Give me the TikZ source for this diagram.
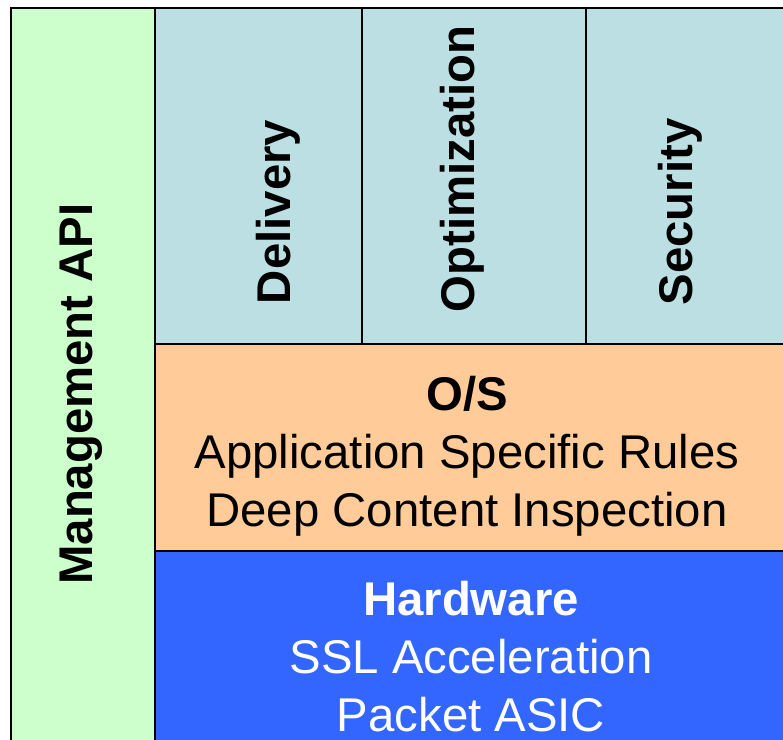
\documentclass[tikz,border=0pt]{standalone}
\usepackage{fontspec}
\setmainfont{Liberation Sans}

\definecolor{mgmtgreen}{HTML}{CCFFCC}
\definecolor{svcteal}{HTML}{BBDFE3}
\definecolor{osorange}{HTML}{FFCC99}
\definecolor{hwblue}{HTML}{3366FF}

\tikzset{
  panel/.style={draw=black, line width=2.2pt},
  layertext/.style={font=\fontsize{35.5}{43.5}\selectfont, inner sep=0pt, align=center},
  sidetext/.style={font=\fontsize{35.5}{43.5}\selectfont\bfseries, inner sep=0pt, rotate=90},
}

\begin{document}
\begin{tikzpicture}[x=0.75pt, y=-0.75pt]
            \useasboundingbox (0,0) rectangle (783,740);
            \clip (0,0) rectangle (783,740);
            % side column and layers
            \draw[panel, fill=mgmtgreen] (11,8) rectangle (155,760);
            \draw[panel, fill=svcteal] (155,8) rectangle (800,344);
            \draw[panel] (362,8) -- (362,344);
            \draw[panel] (586,8) -- (586,344);
            \draw[panel, fill=osorange] (155,344) rectangle (800,551);
            \draw[panel, fill=hwblue] (155,551) rectangle (800,760);
            % labels
            \node[sidetext] (mgmt) at (81,394) {Management API};
            \node[sidetext] (delivery) at (278,212) {Delivery};
            \node[sidetext] (optim) at (462,169) {Optimization};
            \node[sidetext] (security) at (680,212) {Security};
            \node[layertext] (os) at (467,456)
                {\textbf{O/S}\\Application Specific Rules\\Deep Content Inspection};
            \node[layertext, text=white] (hw) at (471,657)
                {\textbf{Hardware}\\SSL Acceleration\\Packet ASIC};
        \end{tikzpicture}
\end{document}
